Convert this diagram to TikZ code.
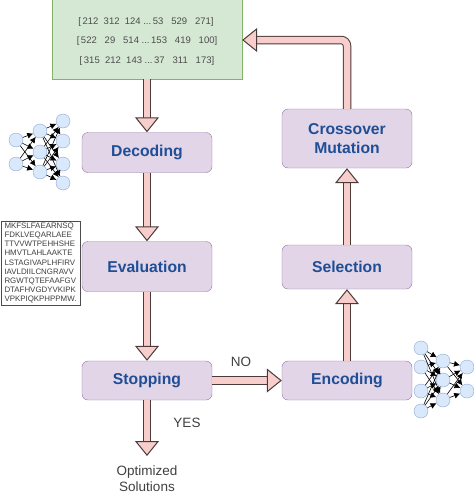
\documentclass[tikz,border=0pt]{standalone}
\usepackage{fontspec}
\setmainfont{Liberation Sans}
\usetikzlibrary{arrows.meta}

\definecolor{stepfill}{HTML}{E1D5E7}
\definecolor{stepline}{HTML}{9673A6}
\definecolor{stepblue}{HTML}{1F4E96}
\definecolor{popfill}{HTML}{D5E8D4}
\definecolor{popline}{HTML}{82B366}
\definecolor{flowfill}{HTML}{F8CECC}
\definecolor{flowline}{HTML}{4A3A3A}
\definecolor{neuronfill}{HTML}{DAE8FC}
\definecolor{neuronline}{HTML}{8CA9D0}

\tikzset{
	stepbox/.style={draw=stepline, fill=stepfill, rounded corners=6pt, minimum width=130pt, inner sep=0pt,
		align=center, text=stepblue, font=\fontsize{15.7}{19}\selectfont\bfseries},
	flow/.style={draw=flowline, line width=1pt, double=flowfill, double distance=6.5pt,
		-{Triangle[length=15pt, width=24pt, line width=1pt, fill=flowfill]}},
	neuron/.style={circle, draw=neuronline, fill=neuronfill, minimum size=14pt, inner sep=0pt},
	netedge/.style={draw=black, line width=0.6pt, -{Latex[length=6pt, width=6pt]}},
	plainlabel/.style={text=black!75, font=\fontsize{13.5}{16}\selectfont, align=center},
	rowlabel/.style={text=black!70, font=\fontsize{9.5}{11}\selectfont}
}

\begin{document}
\begin{tikzpicture}[x=1pt, y=-1pt]
\useasboundingbox (0,0) rectangle (474,496);

% Poblacion
\node[draw=popline, fill=popfill, minimum width=190pt, minimum height=90pt, inner sep=0pt] (Population) at (147,34) {};
\node[rowlabel] (RowA) at (146,22) {[\,212~~312~~124~...\,53~~~529~~~271]};
\node[rowlabel] (RowB) at (147,41.5) {[\,522~~~29~~~514~...\,153~~~419~~~100]};
\node[rowlabel] (RowC) at (147,61) {[\,315~~212~~143~...\,37~~~311~~~173]};

% Pasos
\node[stepbox, minimum height=40pt] (Decoding) at (147,152.5) {Decoding};
\node[stepbox, minimum height=50pt] (Evaluation) at (147,266.5) {Evaluation};
\node[stepbox, minimum height=39pt] (Stopping) at (147,380.5) {Stopping};
\node[stepbox, minimum height=39pt] (Encoding) at (347,380.5) {Encoding};
\node[stepbox, minimum height=44pt] (Selection) at (347,267) {Selection};
\node[stepbox, minimum height=59pt] (Crossover) at (347,138.5) {Crossover\\Mutation};

\node[plainlabel] (Optimized) at (147,478.5) {Optimized\\Solutions};
\node[plainlabel] (No) at (241,362) {NO};
\node[plainlabel] (Yes) at (187,423) {YES};

\node[draw=black!70, inner xsep=1pt, inner ysep=0pt, minimum width=79pt, minimum height=84pt, align=left,
	text=black!75, font=\fontsize{7.9}{9.1}\selectfont] (Sequence) at (40.5,263) {MKFSLFAEARNSQ\\FDKLVEQARLAEE\\TTVVWTPEHHSHE\\HMVTLAHLAAKTE\\LSTAGIVAPLHFIRV\\IAVLDIILCNGRAVV\\RGWTQTEFAAFGV\\DTAFHVGDYVKIPK\\VPKPIQKPHPPMW.};

% Flechas
\coordinate (OptEnd) at (147,456);
\coordinate (Corner) at (347,40);
\draw[flow] (Population) -- (Decoding);
\draw[flow] (Decoding) -- (Evaluation);
\draw[flow] (Evaluation) -- (Stopping);
\draw[flow] (Stopping) -- (OptEnd);
\draw[flow] (Stopping) -- (Encoding);
\draw[flow] (Encoding) -- (Selection);
\draw[flow] (Selection) -- (Crossover);
\draw[flow, rounded corners=6pt] (Crossover) -- (Corner) -- (Population.east |- Corner);

% Red de la izquierda
\foreach \name/\x/\y in {la/16/140, lb/16/164, lc/40/131, ld/40/152, le/40/172, lf/63/121, lg/63/141, lh/63/164, li/63/183}
	\node[neuron] (\name) at (\x,\y) {};
\foreach \a in {la, lb}
	\foreach \b in {lc, ld, le}
		\draw[netedge] (\a) -- (\b);
\foreach \a in {lc, ld, le}
	\foreach \b in {lf, lg, lh, li}
		\draw[netedge] (\a) -- (\b);

% Red de la derecha
\foreach \name/\x/\y in {ra/421/348, rb/421/367, rc/421/391, rd/421/411, re/443/361, rf/443/380, rg/443/400, rh/467/367, ri/467/391}
	\node[neuron] (\name) at (\x,\y) {};
\foreach \a in {ra, rb, rc, rd}
	\foreach \b in {re, rf, rg}
		\draw[netedge] (\a) -- (\b);
\foreach \a in {re, rf, rg}
	\foreach \b in {rh, ri}
		\draw[netedge] (\a) -- (\b);
\end{tikzpicture}
\end{document}
